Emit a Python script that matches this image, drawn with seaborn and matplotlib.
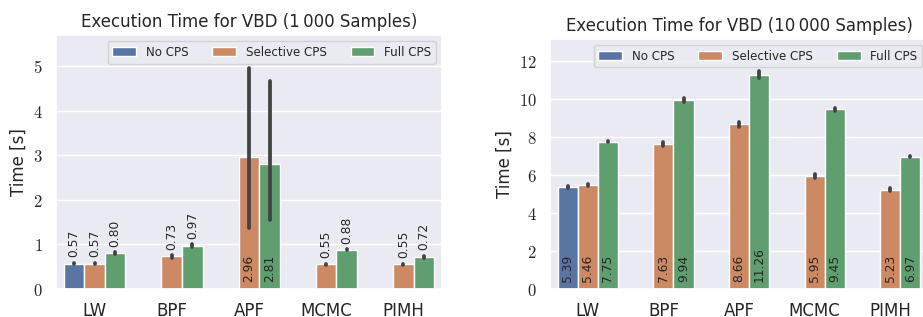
import matplotlib
matplotlib.use("Agg")
import matplotlib.pyplot as plt
import numpy as np
import pandas as pd
import seaborn as sns
from matplotlib.ticker import FuncFormatter

# Data
methods = ['LW', 'BPF', 'APF', 'MCMC', 'PIMH']
variants = ['No CPS', 'Selective CPS', 'Full CPS']

# 1000 samples
small_no = [0.57, np.nan, np.nan, np.nan, np.nan]
small_sel = [0.57, 0.73, 2.96, 0.55, 0.55]
small_full = [0.80, 0.97, 2.81, 0.88, 0.72]
small_sel_lo = [0.55, 0.70, 1.36, 0.53, 0.53]
small_sel_hi = [0.59, 0.76, 4.97, 0.57, 0.57]
small_full_lo = [0.78, 0.94, 1.54, 0.87, 0.70]
small_full_hi = [0.82, 1.00, 4.66, 0.89, 0.74]
small_no_lo = [0.55, np.nan, np.nan, np.nan, np.nan]
small_no_hi = [0.59, np.nan, np.nan, np.nan, np.nan]

# 10000 samples
big_no = [5.39, np.nan, np.nan, np.nan, np.nan]
big_sel = [5.46, 7.63, 8.66, 5.95, 5.23]
big_full = [7.75, 9.94, 11.26, 9.45, 6.97]
big_no_lo = [5.34, np.nan, np.nan, np.nan, np.nan]
big_no_hi = [5.43, np.nan, np.nan, np.nan, np.nan]
big_sel_lo = [5.42, 7.55, 8.52, 5.85, 5.16]
big_sel_hi = [5.50, 7.72, 8.80, 6.05, 5.30]
big_full_lo = [7.71, 9.85, 11.08, 9.37, 6.92]
big_full_hi = [7.79, 10.03, 11.46, 9.53, 7.02]

sns.set_theme(style="darkgrid")
plt.rcParams['mathtext.fontset'] = 'cm'
plt.rcParams['font.family'] = ['DejaVu Sans']


def make_df(no, sel, full):
    return pd.DataFrame({
        'Method': methods * 3,
        'Variant': [v for v in variants for _ in methods],
        'Time': list(no) + list(sel) + list(full),
    })


fig = plt.figure(figsize=(9.23, 3.17), dpi=100)
ax1 = fig.add_axes([0.0607, 0.0883, 0.418, 0.8013])
ax2 = fig.add_axes([0.5959, 0.0883, 0.4095, 0.789])

panels = [
    (ax1, make_df(small_no, small_sel, small_full),
     [(small_no_lo, small_no_hi), (small_sel_lo, small_sel_hi), (small_full_lo, small_full_hi)],
     'Execution Time for VBD (1\u2009000 Samples)', 5.7, 2.0),
    (ax2, make_df(big_no, big_sel, big_full),
     [(big_no_lo, big_no_hi), (big_sel_lo, big_sel_hi), (big_full_lo, big_full_hi)],
     'Execution Time for VBD (10\u2009000 Samples)', 13.16, 0.0),
]

for ax, df, errs, title, ytop, inside_from in panels:
    sns.barplot(data=df, x='Method', y='Time', hue='Variant', order=methods,
                hue_order=variants, errorbar=None, ax=ax, edgecolor='white',
                linewidth=1)
    for container, (lo, hi) in zip(ax.containers, errs):
        for patch, l, h in zip(container.patches, lo, hi):
            if np.isnan(l):
                continue
            xc = patch.get_x() + patch.get_width() / 2
            ax.vlines(xc, l, h, color='.26', linewidth=2.7, capstyle='round')
            val = patch.get_height()
            if val > inside_from:
                ax.annotate(f'{val:.2f}', (xc, 0), xytext=(0, 5),
                            textcoords='offset points', rotation=90,
                            ha='center', va='bottom', fontsize=8.8)
            else:
                ax.annotate(f'{val:.2f}', (xc, h), xytext=(0, 4),
                            textcoords='offset points', rotation=90,
                            ha='center', va='bottom', fontsize=8.8)
    ax.set_ylim(0, ytop)
    ax.set_xlim(-0.5, 4.5)
    ax.yaxis.set_major_formatter(FuncFormatter(lambda v, _: f'${v:g}$'))
    ax.tick_params(axis='y', labelsize=12)
    ax.tick_params(axis='x', labelsize=12)
    ax.set_xlabel('')
    ax.set_ylabel('Time [s]', fontsize=12)
    ax.set_title(title, fontsize=12)
    ax.legend(loc='upper right', ncol=3, fontsize=8.6, title=None,
              handlelength=2.0, columnspacing=2.0, borderaxespad=0.5)

fig.savefig('out.png', dpi=100)
